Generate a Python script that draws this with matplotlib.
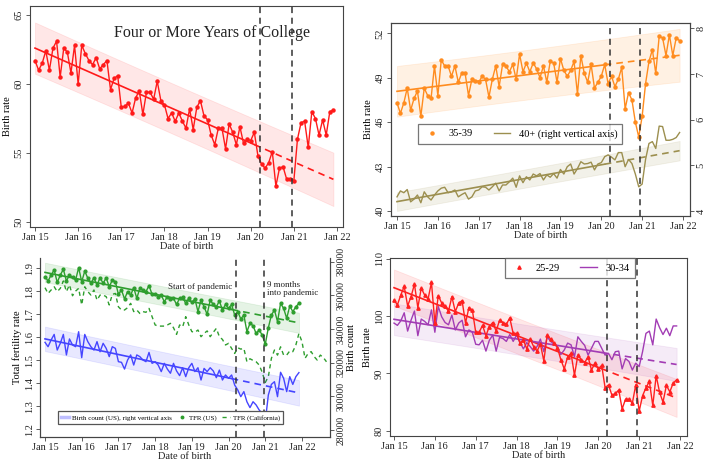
import matplotlib
matplotlib.use("Agg")
import matplotlib.pyplot as plt
from matplotlib.lines import Line2D
import numpy as np

plt.rcParams['font.family'] = ['Liberation Serif', 'DejaVu Serif']
plt.rcParams['font.size'] = 7

# monthly data, Jan 2015 - Dec 2021
college = [61.7, 61.0, 61.5, 62.4, 61.0, 62.6, 63.1, 60.5, 62.6, 62.3, 60.8, 62.8,
           60.0, 62.8, 62.2, 61.7, 61.4, 61.9, 61.1, 61.4, 61.7, 59.6, 60.4, 60.6,
           58.3, 58.4, 58.6, 57.9, 59.0, 59.5, 57.8, 59.4, 59.4, 58.9, 60.2, 58.8,
           58.5, 57.5, 57.9, 57.3, 57.9, 57.3, 56.8, 58.2, 56.7, 58.3, 58.8, 57.7,
           57.4, 56.3, 55.6, 56.8, 56.8, 55.3, 57.1, 56.5, 55.6, 56.9, 55.7, 56.0,
           55.9, 56.5, 54.8, 54.2, 53.9, 54.3, 55.1, 52.6, 53.9, 54.0, 53.1, 53.1,
           53.0, 56.0, 57.2, 57.3, 55.4, 58.0, 57.5, 56.3, 57.4, 56.3, 58.0, 58.1]

age35 = [47.3, 46.6, 47.3, 48.3, 46.8, 47.6, 48.1, 46.4, 48.3, 47.8, 47.6, 49.8,
         47.8, 50.2, 49.8, 49.8, 49.1, 49.8, 48.7, 49.3, 49.3, 47.8, 48.9, 48.8,
         48.7, 49.1, 48.9, 47.7, 48.9, 49.8, 48.4, 49.9, 49.8, 49.4, 49.9, 48.9,
         50.6, 49.4, 50.0, 49.4, 50.0, 49.6, 49.0, 49.8, 48.7, 50.1, 50.0, 48.7,
         50.3, 49.5, 49.1, 49.5, 50.1, 47.9, 50.5, 49.3, 48.7, 49.9, 48.3, 48.7,
         49.1, 49.9, 48.6, 49.1, 48.4, 48.9, 49.7, 46.9, 48.0, 47.5, 46.0, 45.0,
         46.4, 48.6, 50.1, 50.9, 49.3, 51.8, 51.7, 50.5, 51.9, 50.5, 51.7, 51.5]

age40 = [4.31, 4.44, 4.40, 4.47, 4.20, 4.26, 4.35, 4.18, 4.42, 4.31, 4.24, 4.35,
         4.44, 4.50, 4.52, 4.40, 4.42, 4.46, 4.31, 4.36, 4.40, 4.26, 4.31, 4.44,
         4.46, 4.53, 4.52, 4.46, 4.53, 4.61, 4.44, 4.57, 4.57, 4.64, 4.72, 4.52,
         4.77, 4.62, 4.75, 4.68, 4.81, 4.77, 4.82, 4.68, 4.79, 4.74, 4.82, 4.72,
         4.91, 4.81, 4.97, 5.03, 4.81, 4.93, 5.08, 5.03, 5.04, 5.07, 4.90, 5.03,
         5.06, 5.19, 5.23, 5.18, 5.12, 5.28, 5.28, 4.97, 5.13, 5.04, 4.81, 4.53,
         4.59, 5.13, 5.48, 5.52, 5.37, 5.86, 5.85, 5.55, 5.55, 5.57, 5.61, 5.72]

tfr_us = [1.864, 1.845, 1.871, 1.893, 1.839, 1.871, 1.896, 1.845, 1.871, 1.861, 1.849, 1.903,
          1.842, 1.888, 1.857, 1.835, 1.859, 1.828, 1.859, 1.835, 1.859, 1.820, 1.849, 1.842,
          1.787, 1.806, 1.767, 1.799, 1.784, 1.816, 1.770, 1.813, 1.806, 1.799, 1.825, 1.787,
          1.787, 1.777, 1.784, 1.755, 1.777, 1.765, 1.770, 1.743, 1.770, 1.774, 1.748, 1.770,
          1.752, 1.767, 1.712, 1.762, 1.733, 1.700, 1.762, 1.743, 1.733, 1.758, 1.719, 1.743,
          1.726, 1.743, 1.697, 1.712, 1.680, 1.697, 1.625, 1.661, 1.651, 1.617, 1.632, 1.610,
          1.570, 1.642, 1.697, 1.719, 1.668, 1.748, 1.726, 1.683, 1.736, 1.712, 1.733, 1.748]

# California runs to Sep 2022
tfr_ca = [1.816, 1.791, 1.806, 1.820, 1.799, 1.813, 1.845, 1.799, 1.828, 1.781, 1.801, 1.813,
          1.741, 1.820, 1.799, 1.784, 1.806, 1.762, 1.784, 1.784, 1.777, 1.741, 1.787, 1.791,
          1.733, 1.719, 1.719, 1.729, 1.748, 1.712, 1.719, 1.704, 1.712, 1.709, 1.726, 1.690,
          1.654, 1.649, 1.649, 1.649, 1.654, 1.661, 1.642, 1.613, 1.654, 1.646, 1.690, 1.654,
          1.625, 1.622, 1.632, 1.603, 1.617, 1.628, 1.603, 1.622, 1.639, 1.603, 1.591, 1.567,
          1.574, 1.552, 1.530, 1.555, 1.549, 1.552, 1.494, 1.507, 1.500, 1.494, 1.480, 1.448,
          1.404, 1.429, 1.509, 1.545, 1.523, 1.559, 1.523, 1.523, 1.541, 1.538, 1.567, 1.617,
          1.581, 1.509, 1.530, 1.538, 1.516, 1.501, 1.523, 1.512, 1.494]

births = [332100, 329500, 333500, 336800, 327500, 331500, 336800, 324600, 334100, 330500, 329500, 338400,
          323000, 336800, 332500, 329500, 327500, 332500, 326500, 331500, 328500, 323600, 329500, 328500,
          320600, 320200, 316200, 321600, 324600, 318600, 324600, 323600, 321600, 320600, 326100, 319600,
          320600, 318600, 314700, 319600, 316200, 313700, 319600, 315100, 312300, 317000, 311700, 317000,
          319600, 314700, 317000, 309700, 316600, 314700, 317000, 315100, 311100, 315600, 309700, 312700,
          310700, 312700, 306700, 303800, 299800, 302800, 296800, 293300, 296800, 294900, 291900, 289900,
          285000, 300800, 307100, 308700, 299800, 314300, 310700, 302800, 311700, 307100, 311700, 314100]

age25 = [102.8, 102.0, 103.7, 105.2, 101.8, 103.4, 105.6, 101.5, 104.9, 103.7, 103.0, 105.9,
         98.8, 103.6, 102.3, 101.7, 100.9, 103.4, 100.8, 102.3, 102.7, 98.8, 101.5, 101.1,
         97.2, 97.2, 98.4, 96.6, 98.2, 98.9, 97.4, 99.3, 98.9, 98.6, 99.7, 97.0,
         97.0, 95.3, 95.8, 94.3, 96.0, 94.7, 93.9, 95.1, 92.2, 96.7, 96.0, 95.3,
         94.5, 92.4, 90.8, 92.9, 93.5, 89.7, 93.2, 92.4, 91.9, 92.9, 90.6, 91.8,
         90.8, 91.4, 87.5, 88.0, 86.2, 86.5, 87.1, 83.8, 85.5, 85.5, 84.8, 88.0,
         83.4, 86.1, 87.5, 88.6, 84.4, 89.6, 86.7, 85.0, 87.9, 86.8, 88.3, 88.9]

age30 = [98.8, 98.4, 99.2, 100.6, 97.4, 99.3, 100.9, 96.6, 99.5, 99.1, 98.5, 101.1,
         97.2, 101.7, 99.9, 98.9, 98.5, 100.2, 97.6, 98.8, 99.3, 96.4, 97.6, 97.2,
         95.1, 95.0, 95.8, 93.9, 95.8, 96.7, 93.9, 96.3, 96.1, 95.6, 96.8, 95.6,
         96.7, 95.4, 94.3, 95.4, 94.7, 93.9, 94.7, 96.0, 93.8, 96.4, 95.6, 95.1,
         94.7, 93.3, 94.1, 95.3, 95.0, 92.9, 96.4, 95.6, 94.9, 93.2, 94.4, 95.6,
         95.6, 94.4, 93.2, 93.5, 92.4, 93.8, 93.9, 90.8, 92.6, 92.1, 90.6, 91.8,
         91.2, 93.8, 97.0, 97.4, 95.0, 99.5, 98.0, 96.8, 97.9, 96.6, 98.3, 98.3]

year_ticks = [2015, 2016, 2017, 2018, 2019, 2020, 2021, 2022]
year_labels = ['Jan 15', 'Jan 16', 'Jan 17', 'Jan 18', 'Jan 19', 'Jan 20', 'Jan 21', 'Jan 22']
pandemic = [2015 + 62.5 / 12, 2015 + 71.5 / 12]
n_pre = 62  # months before March 2020 used for the trend

W, H = 714, 465
FRAME = '#444444'


def months(n):
    return 2015 + np.arange(n) / 12


def add_panel(left, top, right, bottom):
    return fig.add_axes([left / W, 1 - bottom / H, (right - left) / W, (bottom - top) / H])


def style(ax):
    for s in ax.spines.values():
        s.set_color(FRAME)
        s.set_linewidth(0.8)
    ax.set_xticks(year_ticks)
    ax.set_xticklabels(year_labels)
    ax.tick_params(colors=FRAME, labelcolor='#222222', length=3, width=0.6, pad=1.5,
                   labelsize=7.5)
    ax.tick_params(axis='y', labelrotation=90)
    for lab in ax.get_yticklabels():
        lab.set_va('center')
    ax.set_xlabel('Date of birth', fontsize=7.5, labelpad=0, color='#222222')


def trend(ax, y, color, alpha=0.12):
    y = np.asarray(y, dtype=float)
    t = months(len(y))
    tp, yp = t[:n_pre], y[:n_pre]
    b, a = np.polyfit(tp, yp, 1)
    fit = a + b * t
    resid = yp - (a + b * tp)
    s = np.sqrt(np.sum(resid ** 2) / (n_pre - 2))
    se = s * np.sqrt(1 + 1 / n_pre + (t - tp.mean()) ** 2 / np.sum((tp - tp.mean()) ** 2))
    ax.fill_between(t, fit - 1.96 * se, fit + 1.96 * se, color=color, alpha=alpha,
                    linewidth=0.6, zorder=1)
    ax.plot(t[:n_pre], fit[:n_pre], color=color, lw=1.2, zorder=3)
    ax.plot(t[n_pre - 1:], fit[n_pre - 1:], color=color, lw=1.2, ls=(0, (4, 3)), zorder=3)


def vlines(ax):
    for v in pandemic:
        ax.axvline(v, color='#333333', lw=1.1, ls=(0, (4, 3)), zorder=5)


fig = plt.figure(figsize=(W / 100, H / 100), dpi=100)

# ---- top left: four or more years of college
ax1 = add_panel(30, 6, 343, 227)
red = '#ff1a1a'
trend(ax1, college, red, alpha=0.1)
ax1.plot(months(84), college, color=red, lw=1.0, marker='o', ms=2.2, zorder=4)
vlines(ax1)
ax1.set_xlim(2014.884, 2022.139)
ax1.set_ylim(49.64, 65.65)
ax1.set_yticks([50, 55, 60, 65])
style(ax1)
ax1.set_ylabel('Birth rate', fontsize=7.5, labelpad=2)
ax1.text(0.58, 0.88, 'Four or More Years of College', transform=ax1.transAxes,
         fontsize=11.5, ha='center', va='center', color='#222222')

# ---- top right: 35-39 and 40+
ax2 = add_panel(391, 23, 690, 216)
orange = '#ff8c1f'
olive = '#9c8f4f'
trend(ax2, age35, orange, alpha=0.12)
ax2.plot(months(84), age35, color=orange, lw=1.0, marker='o', ms=2.2, zorder=4)
ax2.set_xlim(2014.853, 2022.171)
ax2.set_ylim(39.66, 52.7)
ax2.set_yticks([40, 43, 46, 49, 52])
style(ax2)
ax2.set_ylabel('Birth rate', fontsize=7.5, labelpad=2)
ax2r = ax2.twinx()
trend(ax2r, age40, olive, alpha=0.12)
ax2r.plot(months(84), age40, color=olive, lw=1.0, zorder=4)
vlines(ax2r)
ax2r.set_ylim(3.89, 8.12)
ax2r.set_yticks([4, 5, 6, 7, 8])
style(ax2r)
ax2r.set_xlabel('')
h2 = [Line2D([], [], color=orange, marker='o', ms=2.2, ls='none'),
      Line2D([], [], color=olive, lw=1.0)]
leg = ax2r.legend(h2, ['35-39', '40+ (right vertical axis)'], ncol=2, loc='lower left',
                  bbox_to_anchor=(0.074, 0.347), fontsize=7.5, frameon=True, fancybox=False,
                  edgecolor='#555555', handlelength=1.6, columnspacing=2.0, borderpad=0.5)
leg.get_frame().set_linewidth(0.9)

# ---- bottom left: TFR and birth counts
ax3 = add_panel(40, 258, 330, 437)
green = '#2e9e2e'
blue = '#4545ff'
trend(ax3, tfr_us, green, alpha=0.12)
ax3.plot(months(84), tfr_us, color=green, lw=1.0, marker='o', ms=2.0, zorder=4)
ax3.plot(months(len(tfr_ca)), tfr_ca, color=green, lw=1.0, ls=(0, (3, 2.5)), zorder=4)
ax3.set_xlim(2014.864, 2022.763)
ax3.set_ylim(1.167, 1.945)
ax3.set_yticks([1.2, 1.3, 1.4, 1.5, 1.6, 1.7, 1.8, 1.9])
style(ax3)
ax3.spines['top'].set_visible(False)
ax3.set_ylabel('Total fertility rate', fontsize=7.5, labelpad=2)
ax3.text(pandemic[0] - 0.1, 1.819, 'Start of pandemic', fontsize=6.5, ha='right',
         va='center', color='#222222')
ax3.text(pandemic[1] + 0.1, 1.812, '9 months\ninto pandemic', fontsize=6.5, ha='left',
         va='center', color='#222222', linespacing=1.0)
ax3r = ax3.twinx()
trend(ax3r, births, blue, alpha=0.12)
ax3r.plot(months(84), births, color=blue, lw=1.0, zorder=4)
vlines(ax3r)
ax3r.set_ylim(275840, 382200)
ax3r.set_yticks([280000, 300000, 320000, 340000, 360000, 380000])
style(ax3r)
ax3r.tick_params(axis='y', labelsize=7)
ax3r.spines['top'].set_visible(False)
ax3r.set_xlabel('')
ax3r.set_ylabel('Birth count', fontsize=7.5, labelpad=1)
h3 = [Line2D([], [], color=blue, lw=2.5, alpha=0.35),
      Line2D([], [], color=green, marker='o', ms=1.8, ls='none'),
      Line2D([], [], color=green, lw=1.0, ls=(0, (3, 2.5)))]
leg = ax3r.legend(h3, ['Birth count (US), right vertical axis', 'TFR (US)', 'TFR (California)'],
                  ncol=3, loc='lower left', bbox_to_anchor=(0.05, 0.055), fontsize=5.0,
                  frameon=True, fancybox=False, edgecolor='#555555', framealpha=1,
                  handlelength=1.2, handletextpad=0.4, columnspacing=0.8, borderpad=0.45)
leg.get_frame().set_linewidth(0.9)
leg.set_zorder(10)

# ---- bottom right: 25-29 and 30-34
ax4 = add_panel(390, 258, 687, 436)
red2 = '#ff2020'
purple = '#a23cb4'
trend(ax4, age25, red2, alpha=0.1)
trend(ax4, age30, purple, alpha=0.1)
ax4.plot(months(84), age30, color=purple, lw=1.0, zorder=4)
ax4.plot(months(84), age25, color=red2, lw=1.0, marker='^', ms=2.4, zorder=4)
vlines(ax4)
ax4.set_xlim(2014.902, 2022.171)
ax4.set_ylim(79.07, 110.17)
ax4.set_yticks([80, 90, 100, 110])
style(ax4)
ax4.set_ylabel('Birth rate', fontsize=7.5, labelpad=2)
h4 = [Line2D([], [], color=red2, marker='^', ms=2.4, ls='none'),
      Line2D([], [], color=purple, lw=1.0)]
leg = ax4.legend(h4, ['25-29', '30-34'], ncol=2, loc='lower left',
                 bbox_to_anchor=(0.37, 0.86), fontsize=7.5, frameon=True, fancybox=False,
                 edgecolor='#555555', handlelength=1.6, columnspacing=2.0, borderpad=0.5)
leg.get_frame().set_linewidth(0.9)

fig.savefig('out.png', dpi=100)
